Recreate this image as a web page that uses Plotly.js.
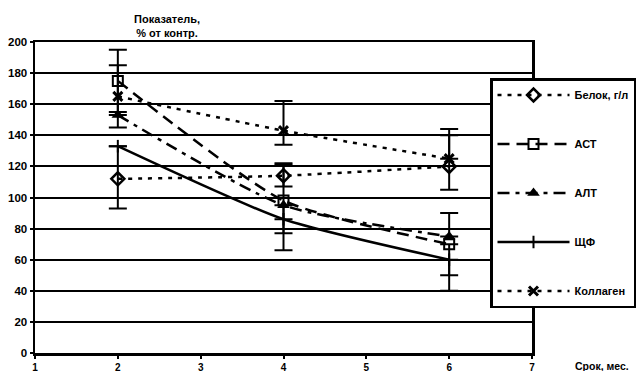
<!DOCTYPE html>
<html><head><meta charset="utf-8">
<script src="https://cdn.plot.ly/plotly-3.0.1.min.js"></script>
<style>html,body{margin:0;padding:0;background:#fff}#chart{width:643px;height:371px}</style>
</head><body><div id="chart"></div>
<script>
const months = [2, 4, 6];
const xTicks = [1, 2, 3, 4, 5, 6, 7];
const yTicks = [0, 20, 40, 60, 80, 100, 120, 140, 160, 180, 200];

const seriesNames = ["Белок, г/л", "АСТ", "АЛТ", "ЩФ", "Коллаген"];
const belok = [112, 114, 120];
const belokPlus = [21, 7, 20];
const belokMinus = [19, 7, 15];
const ast = [175, 98, 70];
const astPlus = [20, 24, 0];
const astMinus = [20, 21, 20];
const alt = [153, 95, 75];
const altPlus = [0, 0, 15];
const altMinus = [0, 29, 0];
const shf = [133, 86, 60];
const shfPlus = [0, 0, 0];
const shfMinus = [0, 0, 20];
const coll = [165, 143, 125];
const collPlus = [20, 19, 19];
const collMinus = [20, 9, 0];

const FONT = "Liberation Sans, Arial, sans-serif";
function tr(name, y, plus, minus, dash, marker) {
  return {
    x: months, y: y, name: name, legendgroup: name, mode: "lines+markers", type: "scatter",
    line: {color: "#000", width: 2.5, dash: dash, shape: "spline", smoothing: 0.6},
    marker: marker,
    error_y: {type: "data", symmetric: false, array: plus, arrayminus: minus,
              color: "#000", thickness: 2, width: 9}
  };
}
const data = [
  tr(seriesNames[0], belok, belokPlus, belokMinus, "4px,6px",
     {symbol: "diamond-open", size: 10, color: "#000", line: {width: 2.5, color: "#000"}}),
  tr(seriesNames[1], ast, astPlus, astMinus, "12px,7px",
     {symbol: "square-open", size: 10, color: "#000", line: {width: 2, color: "#000"}}),
  tr(seriesNames[2], alt, altPlus, altMinus, "12px,6px,4px,6px",
     {symbol: "triangle-up", size: 11, color: "#000", line: {width: 0}}),
  tr(seriesNames[3], shf, shfPlus, shfMinus, "solid",
     {symbol: "line-ns-open", size: 9, color: "#000", line: {width: 2, color: "#000"}}),
  tr(seriesNames[4], coll, collPlus, collMinus, "4px,6px",
     {symbol: "x-thin-open", size: 9, color: "#000", line: {width: 3, color: "#000"}})
];

const layout = {
  width: 643, height: 371,
  margin: {l: 35, r: 111, t: 42, b: 18, autoexpand: false},
  paper_bgcolor: "#fff", plot_bgcolor: "#fff",
  font: {family: FONT, color: "#000", size: 10, weight: "bold"},
  showlegend: true,
  legend: {x: 490/643, xanchor: "left", y: 1 - 78/371, yanchor: "top",
           xref: "container", yref: "container",
           bgcolor: "#fff", bordercolor: "#000", borderwidth: 2.5,
           tracegroupgap: 30, itemwidth: 72, maxheight: 330,
           font: {family: FONT, size: 11, color: "#000", weight: "bold"}},
  xaxis: {range: [1, 7], tickvals: xTicks, ticktext: xTicks.map(String),
          showgrid: false, zeroline: false, showline: true, linecolor: "#000", linewidth: 2.5,
          mirror: true, ticks: "outside", ticklen: 3, tickwidth: 2, tickcolor: "#000",
          tickfont: {family: FONT, size: 10, weight: "bold"}},
  yaxis: {range: [0, 200], tickvals: yTicks, ticktext: yTicks.map(String),
          showgrid: true, gridcolor: "#000", gridwidth: 2, zeroline: false,
          showline: true, linecolor: "#000", linewidth: 2.5, mirror: true,
          ticks: "outside", ticklen: 3, tickwidth: 2, tickcolor: "#000",
          tickfont: {family: FONT, size: 11.5, weight: "bold"}},
  annotations: [
    {text: "Показатель,<br>% от контр.", xref: "paper", yref: "paper", x: 0.2656, y: 1.002,
     xanchor: "center", yanchor: "bottom", showarrow: false,
     font: {family: FONT, size: 11, weight: "bold"}},
    {text: "Срок, мес.", xref: "paper", yref: "paper", x: 1.082, y: -0.015,
     xanchor: "left", yanchor: "top", showarrow: false,
     font: {family: FONT, size: 10.5, weight: "bold"}}
  ]
};
Plotly.newPlot("chart", data, layout, {displayModeBar: false, staticPlot: true});
</script></body></html>
